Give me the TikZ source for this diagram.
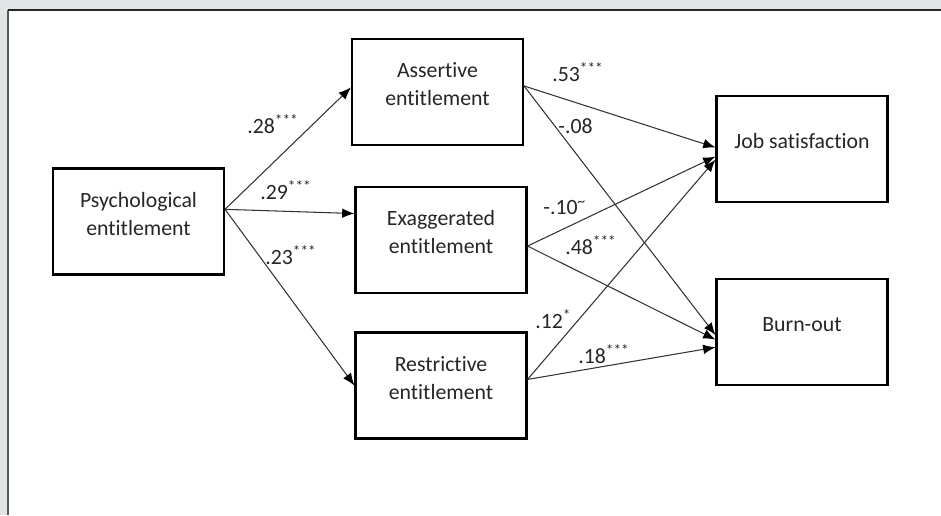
\documentclass[tikz,border=0pt]{standalone}
\usepackage{fontspec}
\setmainfont{Carlito}[Ligatures=NoCommon]
\usetikzlibrary{arrows.meta, calc, positioning}
\definecolor{frame}{HTML}{E1E5E6}

\begin{document}
\begin{tikzpicture}[x=0.02cm,y=-0.02cm,>={Latex[black,length=7pt,width=5.5pt]},
 box/.style={draw=black,line width=1.2pt,minimum width=3.42cm,minimum height=2.12cm,
   align=center,text depth=9pt,font=\fontsize{12.4}{16}\selectfont,text=black!85},
 link/.style={->,draw=black!80,line width=0.6pt},
 coef/.style={anchor=base west,inner sep=0pt,font=\fontsize{12.4}{15}\selectfont,text=black!85}]
\useasboundingbox (0,0) rectangle (941,515);
\fill[frame] (0,0) rectangle (941,515);
\fill[white] (8,10) rectangle (941,515);
\draw[black!65,line width=1.1pt] (8,10) -- (8,515);
\draw[black!85,line width=0.6pt] (8,10) -- (941,10);
\node[box] (PE) at (138.5,221.5) {Psychological\\entitlement};
\node[box] (AE) at (437.5,92) {Assertive\\entitlement};
\node[box] (EE) at (441,240) {Exaggerated\\entitlement};
\node[box] (RE) at (441,385.5) {Restrictive\\entitlement};
\node[box] (JS) at (802,149) {Job satisfaction};
\node[box] (BO) at (802,332) {Burn-out};
\foreach \s/\t in {PE.8/AE.177, PE.8/EE.163, PE.8/RE.west,
                   AE.4/JS.179, AE.4/BO.182, EE.-4/JS.185,
                   EE.-4/BO.185, RE.4/JS.187, RE.4/BO.190}
  \draw[link] (\s) -- (\t);
% path coefficients
\node[coef] (cAE) at (247,133) {.28\textsuperscript{***}};
\node[coef] (cEE) at (260,199) {.29\textsuperscript{***}};
\node[coef] (cRE) at (265,264) {.23\textsuperscript{***}};
\node[coef] (cAJ) at (552,81) {.53\textsuperscript{***}};
\node[coef] (cAB) at (558,133) {-.08};
\node[coef] (cEJ) at (543,214) {-.10\textsuperscript{\textasciitilde}};
\node[coef] (cEB) at (565,254) {.48\textsuperscript{***}};
\node[coef] (cRJ) at (535,328) {.12\textsuperscript{*}};
\node[coef] (cRB) at (578,363) {.18\textsuperscript{***}};
\end{tikzpicture}
\end{document}
